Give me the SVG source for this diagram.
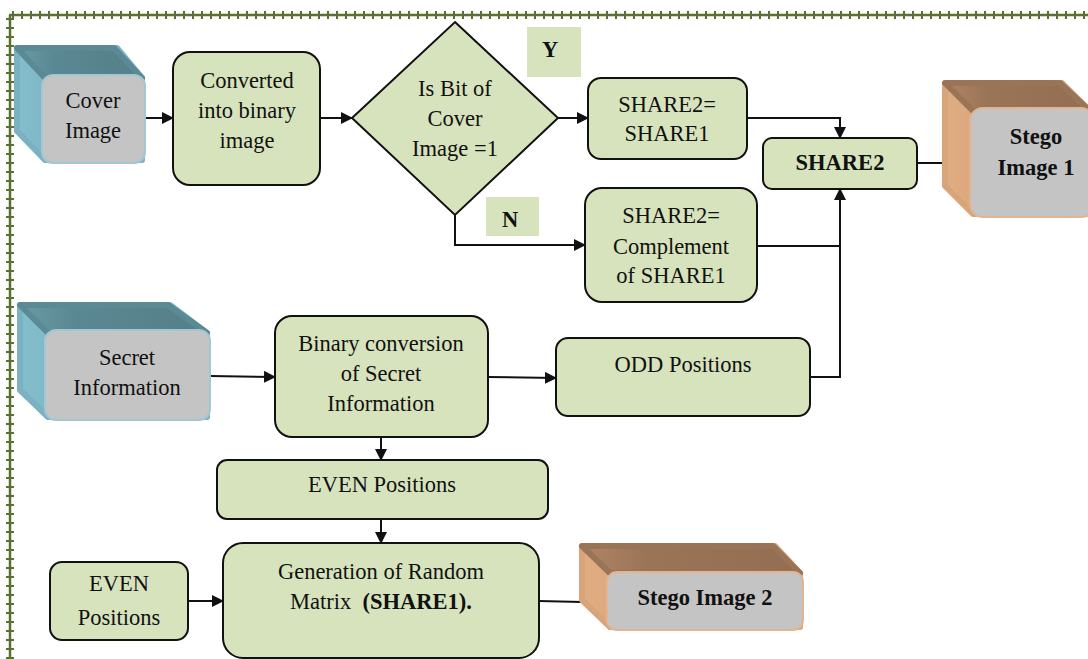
<svg xmlns="http://www.w3.org/2000/svg" width="1088" height="659" viewBox="0 0 1088 659">
  <defs>
    <style>
      .box { fill: #d7e3bc; stroke: #111; stroke-width: 2; }
      .lbl { fill: #d7e3bc; stroke: none; }
      .t { font-family: "Liberation Serif", "Times New Roman", serif; font-size: 22.5px; fill: #111; text-anchor: middle; }
      .b { font-weight: bold; }
      .c { fill: none; stroke: #111; stroke-width: 2; }
      .face { fill: #c4c4c4; stroke-width: 2; }
      .tealTop { fill: url(#tealTopGrad); stroke: #5b8a94; stroke-width: 6; stroke-linejoin: round; }
      .tealSide { fill: url(#tealGrad); stroke: #7ab2c2; stroke-width: 6; stroke-linejoin: round; }
      .brownTop { fill: url(#brownTopGrad); stroke: #9a7457; stroke-width: 6; stroke-linejoin: round; }
      .brownSide { fill: url(#brownGrad); stroke: #d8a57a; stroke-width: 6; stroke-linejoin: round; }
      .border { stroke: #5a7030; fill: none; }
    </style>
    <linearGradient id="tealGrad" x1="0" y1="0" x2="1" y2="0">
      <stop offset="0" stop-color="#84bdcc"/>
      <stop offset="1" stop-color="#6da3b1"/>
    </linearGradient>
    <linearGradient id="tealTopGrad" x1="0" y1="0" x2="1" y2="0">
      <stop offset="0" stop-color="#6a9ba6"/>
      <stop offset="0.3" stop-color="#5a8892"/>
      <stop offset="1" stop-color="#557f88"/>
    </linearGradient>
    <linearGradient id="brownGrad" x1="0" y1="0" x2="1" y2="0">
      <stop offset="0" stop-color="#e0ad82"/>
      <stop offset="1" stop-color="#c9966c"/>
    </linearGradient>
    <linearGradient id="brownTopGrad" x1="0" y1="0" x2="1" y2="0">
      <stop offset="0" stop-color="#b08565"/>
      <stop offset="0.3" stop-color="#9a7457"/>
      <stop offset="1" stop-color="#936e52"/>
    </linearGradient>
    <marker id="arr" markerWidth="12" markerHeight="12" refX="11" refY="6" orient="auto" markerUnits="userSpaceOnUse">
      <path d="M0,0 L12,6 L0,12 Z" fill="#111"/>
    </marker>
  </defs>

  <rect width="1088" height="659" fill="#fff"/>

  <!-- decorative page border -->
  <g id="border">
    <line class="border" x1="9" y1="15" x2="1088" y2="15" stroke-width="2.5"/>
    <line class="border" x1="12" y1="15" x2="1088" y2="15" stroke-width="8" stroke-dasharray="2 7"/>
    <line class="border" x1="10" y1="15" x2="10" y2="659" stroke-width="2.5"/>
    <line class="border" x1="10" y1="18" x2="10" y2="659" stroke-width="8" stroke-dasharray="2 7"/>
  </g>

  <!-- connectors -->
  <g id="connectors">
    <line class="c" x1="145" y1="118" x2="173" y2="118" marker-end="url(#arr)"/>
    <line class="c" x1="320" y1="118" x2="352" y2="118" marker-end="url(#arr)"/>
    <line class="c" x1="558" y1="118" x2="588" y2="118" marker-end="url(#arr)"/>
    <polyline class="c" points="747,118 840,118 840,138" marker-end="url(#arr)"/>
    <polyline class="c" points="455,215 455,245 585,245" marker-end="url(#arr)"/>
    <line class="c" x1="757" y1="246" x2="840" y2="246"/>
    <polyline class="c" points="810,377 840,377 840,189" marker-end="url(#arr)"/>
    <line class="c" x1="917" y1="163" x2="944" y2="163"/>
    <line class="c" x1="210" y1="376" x2="275" y2="377" marker-end="url(#arr)"/>
    <line class="c" x1="488" y1="377" x2="556" y2="378" marker-end="url(#arr)"/>
    <line class="c" x1="381" y1="437" x2="381" y2="460" marker-end="url(#arr)"/>
    <line class="c" x1="381" y1="519" x2="381" y2="543" marker-end="url(#arr)"/>
    <line class="c" x1="188" y1="601" x2="223" y2="601" marker-end="url(#arr)"/>
    <line class="c" x1="539" y1="601" x2="582" y2="602"/>
  </g>

  <!-- Cover Image -->
  <g id="cover-image">
    <polygon class="tealSide" points="17,48 117,48 142,78 142,160 45,160 17,131"/>
    <polygon class="tealTop" points="17,48 114,48 142,78 45,78"/>
    <rect class="face" x="42" y="75" width="103" height="88" rx="11" stroke="#a2c6d2"/>
    <text class="t" x="93" y="108">Cover</text>
    <text class="t" x="93" y="138">Image</text>
  </g>

  <!-- Converted into binary image -->
  <g id="converted">
    <rect class="box" x="173" y="52" width="147" height="133" rx="17"/>
    <text class="t" x="247" y="88">Converted</text>
    <text class="t" x="247" y="118">into binary</text>
    <text class="t" x="247" y="148">image</text>
  </g>

  <!-- decision -->
  <g id="decision">
    <polygon class="box" points="455,22 558,118 455,215 352,118"/>
    <text class="t" x="455" y="96">Is Bit of</text>
    <text class="t" x="455" y="126">Cover</text>
    <text class="t" x="455" y="156">Image =1</text>
  </g>

  <g id="label-y">
    <rect class="lbl" x="527" y="27" width="54" height="50"/>
    <text class="t b" x="550" y="57">Y</text>
  </g>

  <g id="label-n">
    <rect class="lbl" x="486" y="197" width="53" height="39"/>
    <text class="t b" x="510" y="227">N</text>
  </g>

  <!-- SHARE2 = SHARE1 -->
  <g id="share2-eq-share1">
    <rect class="box" x="588" y="78" width="159" height="81" rx="13"/>
    <text class="t" x="667" y="112">SHARE2=</text>
    <text class="t" x="667" y="141">SHARE1</text>
  </g>

  <!-- SHARE2 = complement -->
  <g id="share2-complement">
    <rect class="box" x="585" y="188" width="172" height="114" rx="17"/>
    <text class="t" x="671" y="223">SHARE2=</text>
    <text class="t" x="671" y="254">Complement</text>
    <text class="t" x="671" y="283">of SHARE1</text>
  </g>

  <!-- SHARE2 -->
  <g id="share2">
    <rect class="box" x="763" y="138" width="154" height="51" rx="9"/>
    <text class="t b" x="840" y="170">SHARE2</text>
  </g>

  <!-- Stego Image 1 -->
  <g id="stego-image-1">
    <polygon class="brownSide" points="945,83 1062,83 1090,111 1090,214 973,214 945,186"/>
    <polygon class="brownTop" points="945,83 1060,83 1090,111 973,111"/>
    <rect class="face" x="970" y="108" width="124" height="109" rx="13" stroke="#e2b592"/>
    <text class="t b" x="1036" y="144">Stego</text>
    <text class="t b" x="1036" y="175">Image 1</text>
  </g>

  <!-- Secret Information -->
  <g id="secret-information">
    <polygon class="tealSide" points="20,305 170,305 207,333 207,417 48,417 20,390"/>
    <polygon class="tealTop" points="20,305 168,305 207,333 48,333"/>
    <rect class="face" x="45" y="330" width="165" height="90" rx="11" stroke="#a2c6d2"/>
    <text class="t" x="127" y="365">Secret</text>
    <text class="t" x="127" y="395">Information</text>
  </g>

  <!-- Binary conversion -->
  <g id="binary-conversion">
    <rect class="box" x="275" y="316" width="213" height="121" rx="17"/>
    <text class="t" x="381" y="351">Binary conversion</text>
    <text class="t" x="381" y="381">of Secret</text>
    <text class="t" x="381" y="411">Information</text>
  </g>

  <!-- ODD Positions -->
  <g id="odd-positions">
    <rect class="box" x="556" y="338" width="254" height="78" rx="12"/>
    <text class="t" x="683" y="372">ODD Positions</text>
  </g>

  <!-- EVEN Positions (center) -->
  <g id="even-positions">
    <rect class="box" x="217" y="460" width="331" height="59" rx="10"/>
    <text class="t" x="382" y="492">EVEN Positions</text>
  </g>

  <!-- Generation of Random Matrix -->
  <g id="random-matrix">
    <rect class="box" x="223" y="543" width="316" height="115" rx="20"/>
    <text class="t" x="381" y="579">Generation of Random</text>
    <text class="t" x="381" y="609">Matrix&#160; <tspan class="b">(SHARE1).</tspan></text>
  </g>

  <!-- EVEN Positions (left) -->
  <g id="even-positions-left">
    <rect class="box" x="50" y="562" width="138" height="78" rx="12"/>
    <text class="t" x="119" y="591">EVEN</text>
    <text class="t" x="119" y="625">Positions</text>
  </g>

  <!-- Stego Image 2 -->
  <g id="stego-image-2">
    <polygon class="brownSide" points="582,546 775,546 800,573 800,627 610,627 582,600"/>
    <polygon class="brownTop" points="582,546 773,546 800,573 610,573"/>
    <rect class="face" x="607" y="572" width="196" height="58" rx="10" stroke="#e2b592"/>
    <text class="t b" x="705" y="605">Stego Image 2</text>
  </g>
</svg>
